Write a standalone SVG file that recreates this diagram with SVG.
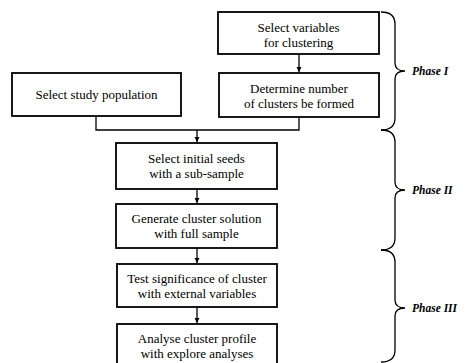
<svg xmlns="http://www.w3.org/2000/svg" width="466" height="363" viewBox="0 0 466 363">
<defs>
<style>
.box{fill:#fff;stroke:#000;stroke-width:1.8}
.t{font-family:"Liberation Serif","Times New Roman",serif;font-size:13px;fill:#000;text-anchor:middle}
.ph{font-family:"Liberation Serif","Times New Roman",serif;font-size:11.5px;font-weight:bold;font-style:italic;fill:#000}
.ln{fill:none;stroke:#000;stroke-width:1.3}
.br{fill:none;stroke:#000;stroke-width:1.3}
</style>
<marker id="ah" markerWidth="6" markerHeight="6" refX="5" refY="3" orient="auto" markerUnits="userSpaceOnUse">
<path d="M0,0.5 L5,3 L0,5.5 Z" fill="#000"/>
</marker>
</defs>
<rect width="466" height="363" fill="#fff"/>
<g id="connectors">
<line class="ln" x1="299" y1="54" x2="299" y2="72" marker-end="url(#ah)"/>
<polyline class="ln" points="96,116 96,130 299,130 299,117"/>
<line class="ln" x1="197" y1="130" x2="197" y2="142" marker-end="url(#ah)"/>
<line class="ln" x1="197" y1="189" x2="197" y2="203" marker-end="url(#ah)"/>
<line class="ln" x1="197" y1="248" x2="197" y2="263" marker-end="url(#ah)"/>
<line class="ln" x1="197" y1="307" x2="197" y2="323" marker-end="url(#ah)"/>
</g>
<g id="n-select-vars">
<rect class="box" x="218" y="12" width="161" height="42"/>
<text class="t" x="298.5" y="31.5">Select variables</text>
<text class="t" x="298.5" y="46.5">for clustering</text>
</g>
<g id="n-determine">
<rect class="box" x="219" y="73" width="160" height="44"/>
<text class="t" x="299" y="92.5">Determine number</text>
<text class="t" x="299" y="107.5">of clusters be formed</text>
</g>
<g id="n-population">
<rect class="box" x="12" y="73" width="169" height="43"/>
<text class="t" x="96.5" y="99">Select study population</text>
</g>
<g id="n-seeds">
<rect class="box" x="116" y="143" width="161" height="46"/>
<text class="t" x="196.5" y="163">Select initial seeds</text>
<text class="t" x="196.5" y="178">with a sub-sample</text>
</g>
<g id="n-generate">
<rect class="box" x="116" y="204" width="161" height="44"/>
<text class="t" x="196.5" y="222.5">Generate cluster solution</text>
<text class="t" x="196.5" y="237.5">with full sample</text>
</g>
<g id="n-test">
<rect class="box" x="117" y="264" width="160" height="43"/>
<text class="t" x="197" y="282.5">Test significance of cluster</text>
<text class="t" x="197" y="297.5">with external variables</text>
</g>
<g id="n-analyse">
<rect class="box" x="117" y="324" width="160" height="44"/>
<text class="t" x="197" y="342.5">Analyse cluster profile</text>
<text class="t" x="197" y="357.5">with explore analyses</text>
</g>
<g id="phase1">
<path class="br" d="M381,12 Q395,12 395,24 L395,63 Q395,71 405,71 Q395,71 395,79 L395,118 Q395,130 381,130"/>
<text class="ph" x="412" y="75">Phase I</text>
</g>
<g id="phase2">
<path class="br" d="M381,130 Q395,130 395,142 L395,182 Q395,190 405,190 Q395,190 395,198 L395,238 Q395,250 381,250"/>
<text class="ph" x="412" y="194">Phase II</text>
</g>
<g id="phase3">
<path class="br" d="M381,250 Q395,250 395,262 L395,300 Q395,308 405,308 Q395,308 395,316 L395,350 Q395,362 381,362"/>
<text class="ph" x="412" y="312">Phase III</text>
</g>
</svg>
